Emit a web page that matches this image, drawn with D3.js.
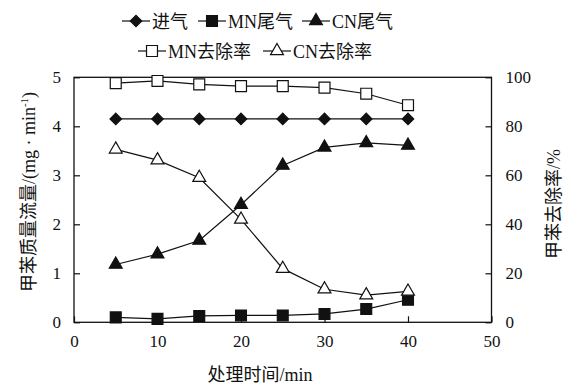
<!DOCTYPE html>
<html>
<head>
<meta charset="utf-8">
<script src="https://cdn.jsdelivr.net/npm/d3@7"></script>
<style>
  html, body { margin: 0; padding: 0; background: #fff; }
  svg text { font-family: "Liberation Serif", "Times New Roman", "Noto Sans CJK SC", serif; fill: #111; }
</style>
</head>
<body>
<svg id="chart" width="566" height="385"></svg>
<script>
// Treatment time (min)
const times = [5, 10, 15, 20, 25, 30, 35, 40];
// Toluene mass flow (mg·min^-1), left axis
const inlet = [4.15, 4.15, 4.15, 4.15, 4.15, 4.15, 4.15, 4.15];
const mnOutlet = [0.10, 0.07, 0.13, 0.14, 0.14, 0.17, 0.27, 0.46];
const cnOutlet = [1.18, 1.39, 1.67, 2.40, 3.20, 3.57, 3.66, 3.61];
// Toluene removal rate (%), right axis
const mnRemoval = [97.6, 98.5, 97.1, 96.4, 96.4, 95.8, 93.3, 88.6];
const cnRemoval = [70.6, 66.2, 59.0, 42.0, 21.9, 13.5, 11.1, 12.6];

const xTicks = [0, 10, 20, 30, 40, 50];
const yLeftTicks = [0, 1, 2, 3, 4, 5];
const yRightTicks = [0, 20, 40, 60, 80, 100];

const svg = d3.select("#chart");
const m = { left: 74, right: 491.5, top: 77.3, bottom: 322.3 };

const x = d3.scaleLinear().domain([0, 50]).range([m.left, m.right]);
const yL = d3.scaleLinear().domain([0, 5]).range([m.bottom, m.top]);
const yR = d3.scaleLinear().domain([0, 100]).range([m.bottom, m.top]);

const stroke = "#111";
const fmt = d3.format("d");

// Frame
svg.append("rect")
  .attr("x", m.left).attr("y", m.top)
  .attr("width", m.right - m.left).attr("height", m.bottom - m.top)
  .attr("fill", "none").attr("stroke", stroke).attr("stroke-width", 1.3);

// Axes with inward ticks
const axX = svg.append("g").attr("transform", `translate(0,${m.bottom})`)
  .call(d3.axisBottom(x).tickValues(xTicks).tickFormat(fmt).tickSizeInner(-6).tickSizeOuter(0).tickPadding(13));
const axL = svg.append("g").attr("transform", `translate(${m.left},0)`)
  .call(d3.axisLeft(yL).tickValues(yLeftTicks).tickFormat(fmt).tickSizeInner(-6).tickSizeOuter(0).tickPadding(13));
const axR = svg.append("g").attr("transform", `translate(${m.right},0)`)
  .call(d3.axisRight(yR).tickValues(yRightTicks).tickFormat(fmt).tickSizeInner(-6).tickSizeOuter(0).tickPadding(14));

[axX, axL, axR].forEach(a => {
  a.select(".domain").remove();
  a.selectAll(".tick line").attr("stroke", stroke).attr("stroke-width", 1.2);
  a.selectAll(".tick text")
    .attr("font-size", 17)
    .attr("font-family", "Liberation Serif, Times New Roman, serif")
    .attr("fill", "#111");
});

// Series definitions
const series = [
  { name: "进气", values: inlet, scale: yL, sym: "diamond", fill: stroke },
  { name: "MN尾气", values: mnOutlet, scale: yL, sym: "square", fill: stroke },
  { name: "CN尾气", values: cnOutlet, scale: yL, sym: "triangle", fill: stroke },
  { name: "MN去除率", values: mnRemoval, scale: yR, sym: "square", fill: "#fff" },
  { name: "CN去除率", values: cnRemoval, scale: yR, sym: "triangle", fill: "#fff" }
];

function symbolPath(kind, open) {
  if (kind === "diamond") return d3.symbol(d3.symbolSquare, 66)();
  if (kind === "square") return d3.symbol(d3.symbolSquare, open ? 120 : 118)();
  return d3.symbol(d3.symbolTriangle, 72)();
}

function drawMarker(g, s, cx, cy) {
  const open = s.fill === "#fff";
  g.append("path")
    .attr("d", symbolPath(s.sym, open))
    .attr("transform", `translate(${cx},${cy})` + (s.sym === "diamond" ? " rotate(45)" : ""))
    .attr("fill", s.fill)
    .attr("stroke", stroke)
    .attr("stroke-width", 1.2);
}

const line = d3.line();
const plot = svg.append("g");

series.forEach(s => {
  const pts = times.map((t, i) => [x(t), s.scale(s.values[i])]);
  plot.append("path")
    .attr("d", line(pts))
    .attr("fill", "none")
    .attr("stroke", stroke)
    .attr("stroke-width", 1.2);
});
series.forEach(s => {
  const g = plot.append("g");
  times.forEach((t, i) => drawMarker(g, s, x(t), s.scale(s.values[i])));
});

// Legend
const legendRows = [
  { y: 21, items: [ { s: series[0], x: 122 }, { s: series[1], x: 198 }, { s: series[2], x: 302 } ] },
  { y: 51, items: [ { s: series[3], x: 138 }, { s: series[4], x: 263 } ] }
];
legendRows.forEach(row => {
  row.items.forEach(it => {
    const g = svg.append("g");
    g.append("line")
      .attr("x1", it.x).attr("x2", it.x + 28)
      .attr("y1", row.y).attr("y2", row.y)
      .attr("stroke", stroke).attr("stroke-width", 1.2);
    drawMarker(g, it.s, it.x + 14, row.y);
    g.append("text")
      .attr("x", it.x + 30).attr("y", row.y + 6.5)
      .attr("font-size", 18)
      .text(it.s.name);
  });
});

// Axis titles
svg.append("text")
  .attr("x", 260).attr("y", 381)
  .attr("text-anchor", "middle")
  .attr("font-size", 18)
  .text("处理时间/min");

const leftTitle = svg.append("text")
  .attr("transform", "translate(35,192) rotate(-90)")
  .attr("text-anchor", "middle")
  .attr("font-size", 18);
leftTitle.append("tspan").text("甲苯质量流量/(mg · min");
leftTitle.append("tspan").attr("font-size", 11).attr("dy", -7).text("-1");
leftTitle.append("tspan").attr("dy", 7).text(")");

svg.append("text")
  .attr("transform", "translate(560,204) rotate(-90)")
  .attr("text-anchor", "middle")
  .attr("font-size", 18)
  .text("甲苯去除率/%");
</script>
</body>
</html>
